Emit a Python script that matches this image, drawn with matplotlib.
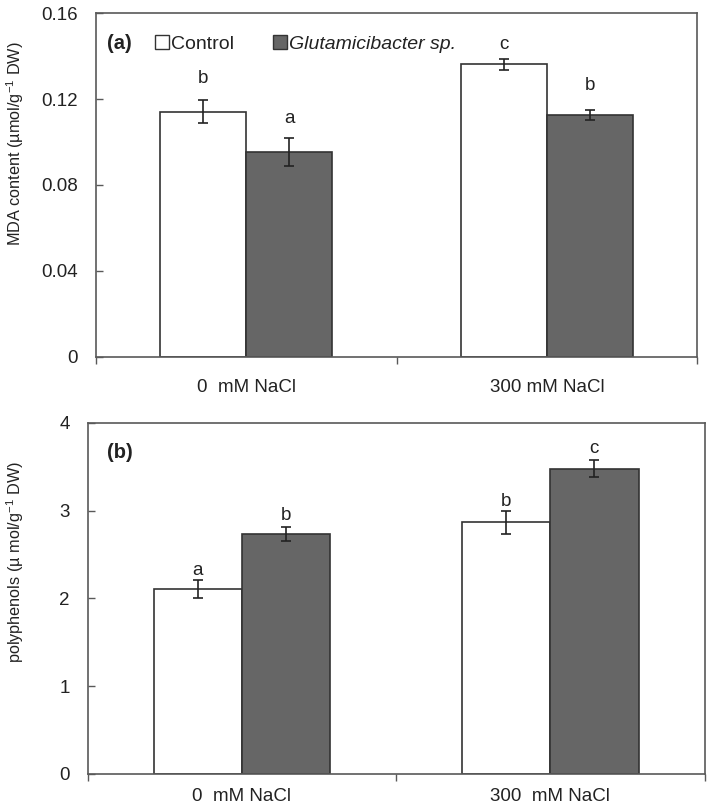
import matplotlib
matplotlib.use("Agg")
import matplotlib.pyplot as plt
from matplotlib.lines import Line2D
import numpy as np

plt.rcParams['font.family'] = ['Liberation Sans', 'DejaVu Sans']
plt.rcParams['mathtext.fontset'] = 'custom'
plt.rcParams['mathtext.rm'] = 'Liberation Sans'
plt.rcParams['mathtext.it'] = 'Liberation Sans:italic'

# ---- data ----
series = ["Control", "Glutamicibacter sp."]
cats_a = ["0  mM NaCl", "300 mM NaCl"]
cats_b = ["0  mM NaCl", "300  mM NaCl"]

mda_control = [0.1141, 0.1361]
mda_control_err = [0.0054, 0.0025]
mda_glut = [0.0952, 0.1124]
mda_glut_err = [0.0065, 0.0024]
mda_letters_control = ["b", "c"]
mda_letters_glut = ["a", "b"]

poly_control = [2.11, 2.87]
poly_control_err = [0.10, 0.13]
poly_glut = [2.73, 3.48]
poly_glut_err = [0.08, 0.10]
poly_letters_control = ["a", "b"]
poly_letters_glut = ["b", "c"]

yticks_a = [0, 0.04, 0.08, 0.12, 0.16]
yticklabels_a = ["0", "0.04", "0.08", "0.12", "0.16"]
yticks_b = [0, 1, 2, 3, 4]
yticklabels_b = ["0", "1", "2", "3", "4"]

# ---- style ----
TXT = '#222222'
EDGE = '#333333'
DARK = '#666666'
SPINE = '#595959'
W = 0.286
FS = 13.5
FS_LAB = 11.7

fig = plt.figure(figsize=(7.09, 8.08), dpi=100)
ax1 = fig.add_axes([0.1354, 0.5582, 0.848, 0.4257])
ax2 = fig.add_axes([0.1237, 0.0421, 0.870, 0.4344])


def panel(ax, cats, c, ce, g, ge, lc, lg, yt, ytl, ylim, ylabel, tag, tagpos,
          xpad, off_c, off_g):
    x = np.arange(len(cats))
    ax.bar(x - W / 2, c, W, color='white', edgecolor=EDGE, linewidth=1.2, zorder=2)
    ax.bar(x + W / 2, g, W, color=DARK, edgecolor=EDGE, linewidth=1.2, zorder=2)
    ax.errorbar(x - W / 2, c, yerr=ce, fmt='none', ecolor='#222222',
                elinewidth=1.2, capsize=3.5, capthick=1.2, zorder=3)
    ax.errorbar(x + W / 2, g, yerr=ge, fmt='none', ecolor='#222222',
                elinewidth=1.2, capsize=3.5, capthick=1.2, zorder=3)
    for xi, v, e, l, o in zip(x - W / 2, c, ce, lc, off_c):
        ax.annotate(l, (xi, v + e), xytext=(0, o), textcoords='offset points',
                    ha='center', va='bottom', fontsize=FS, color=TXT)
    for xi, v, e, l, o in zip(x + W / 2, g, ge, lg, off_g):
        ax.annotate(l, (xi, v + e), xytext=(0, o), textcoords='offset points',
                    ha='center', va='bottom', fontsize=FS, color=TXT)
    ax.set_xlim(-0.5, len(cats) - 0.5)
    ax.set_ylim(*ylim)
    ax.set_xticks(np.arange(-0.5, len(cats), 1.0))
    ax.set_xticklabels([])
    ax.set_xticks(x, minor=True)
    ax.set_xticklabels(cats, minor=True, fontsize=FS, color=TXT)
    ax.tick_params(axis='x', which='major', direction='out', length=5, color=SPINE, width=1)
    ax.tick_params(axis='x', which='minor', length=0, pad=xpad)
    ax.set_yticks(yt)
    ax.set_yticklabels(ytl, fontsize=FS, color=TXT)
    ax.tick_params(axis='y', direction='in', length=5, color=SPINE, width=1, pad=13)
    for s in ax.spines.values():
        s.set_color(SPINE)
        s.set_linewidth(1.2)
    ax.set_ylabel(ylabel, fontsize=FS_LAB, color=TXT)
    ax.text(tagpos[0], tagpos[1], tag, transform=ax.transAxes, fontsize=14.5,
            fontweight='bold', va='center', ha='left', color=TXT)


panel(ax1, cats_a, mda_control, mda_control_err, mda_glut, mda_glut_err,
      mda_letters_control, mda_letters_glut, yticks_a, yticklabels_a, (0, 0.16),
      r'MDA content (µmol/g$^{-1}$ DW)', '(a)', (0.018, 0.91), 16,
      [9.5, 4.0], [8.0, 11.5])
panel(ax2, cats_b, poly_control, poly_control_err, poly_glut, poly_glut_err,
      poly_letters_control, poly_letters_glut, yticks_b, yticklabels_b, (0, 4),
      r'polyphenols (µ mol/g$^{-1}$ DW)', '(b)', (0.031, 0.917), 10,
      [1.0, 0.2], [2.4, 1.7])

ax1.yaxis.set_label_coords(-0.117, 0.619)
ax2.yaxis.set_label_coords(-0.10, 0.604)

handles = [Line2D([], [], marker='s', ls='', mfc='white', mec=EDGE, mew=1.0, ms=10),
           Line2D([], [], marker='s', ls='', mfc=DARK, mec=EDGE, mew=1.0, ms=10)]
leg = ax1.legend(handles, series, loc='center left', bbox_to_anchor=(0.097, 0.91),
                 ncol=2, frameon=False, fontsize=14, handlelength=0.75,
                 handletextpad=0.1, columnspacing=2.0, borderpad=0, borderaxespad=0)
for t in leg.get_texts():
    t.set_color(TXT)
leg.get_texts()[1].set_style('italic')

fig.savefig('out.png', dpi=100)
